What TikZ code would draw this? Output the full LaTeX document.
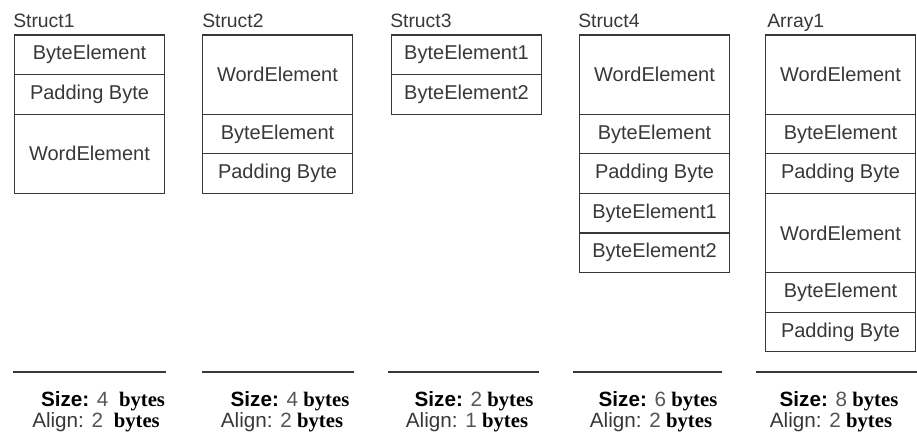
\documentclass[tikz,border=0pt]{standalone}
\usepackage{fontspec}
\setmainfont{Liberation Sans}
\newfontfamily\bytesfont{Liberation Serif}
\usetikzlibrary{positioning}

\definecolor{inkgray}{HTML}{383838}
\definecolor{numgray}{HTML}{555555}

\tikzset{
  cell/.style={draw=inkgray, line width=0.9pt, minimum width=113pt, minimum height=29.7pt,
    inner sep=0pt, outer sep=0pt, text=inkgray, font=\fontsize{15}{17}\selectfont},
  wordcell/.style={cell, minimum height=59.4pt},
  title/.style={anchor=base west, inner sep=0pt, text=inkgray, font=\fontsize{14.5}{16}\selectfont},
  rule/.style={draw=inkgray, line width=1.8pt},
  sizetext/.style={anchor=base, inner sep=0pt, text=black, font=\fontsize{15.5}{17}\selectfont}
}
\newcommand{\bytesword}{{\bytesfont\bfseries bytes}}

\begin{document}
\begin{tikzpicture}[x=0.75pt, y=-0.75pt]
	\useasboundingbox (0,0) rectangle (917,435);
	% titles
	\node[title] (t1) at (13,28) {Struct1};
	\node[title] (t2) at (202,28) {Struct2};
	\node[title] (t3) at (390,28) {Struct3};
	\node[title] (t4) at (578,28) {Struct4};
	\node[title] (t5) at (767,28) {Array1};
	% Struct1
	\node[cell, anchor=north] (s1a) at (89.5,35) {ByteElement};
	\node[cell, below=0pt of s1a] (s1b) {Padding Byte};
	\node[wordcell, below=0pt of s1b] (s1c) {WordElement};
	% Struct2
	\node[wordcell, anchor=north] (s2a) at (277.5,35) {WordElement};
	\node[cell, below=0pt of s2a] (s2b) {ByteElement};
	\node[cell, below=0pt of s2b] (s2c) {Padding Byte};
	% Struct3
	\node[cell, anchor=north] (s3a) at (466.5,35) {ByteElement1};
	\node[cell, below=0pt of s3a] (s3b) {ByteElement2};
	% Struct4
	\node[wordcell, anchor=north] (s4a) at (654.5,35) {WordElement};
	\node[cell, below=0pt of s4a] (s4b) {ByteElement};
	\node[cell, below=0pt of s4b] (s4c) {Padding Byte};
	\node[cell, below=0pt of s4c] (s4d) {ByteElement1};
	\node[cell, below=0pt of s4d] (s4e) {ByteElement2};
	% Array1
	\node[wordcell, anchor=north] (a1a) at (840.5,35) {WordElement};
	\node[cell, below=0pt of a1a] (a1b) {ByteElement};
	\node[cell, below=0pt of a1b] (a1c) {Padding Byte};
	\node[wordcell, below=0pt of a1c] (a1d) {WordElement};
	\node[cell, below=0pt of a1d] (a1e) {ByteElement};
	\node[cell, below=0pt of a1e] (a1f) {Padding Byte};
	% rules
	\foreach \a/\b in {13/166, 202/354, 388/539, 573/722, 756/917} \draw[rule] (\a,372) -- (\b,372);
	% sizes
	\foreach \i/\xs/\xa/\s/\al/\gap in {1/103/96/4/2/8pt, 2/290/282/4/2/4pt, 3/474/467/2/1/4pt, 4/658/651/6/2/4pt, 5/839/831/8/2/4pt} {
		\node[sizetext] (size\i) at (\xs,406) {\textbf{Size:} {\color{numgray}\s}\hspace{\gap}\bytesword};
		\node[sizetext] (align\i) at (\xa,427) {{\color{inkgray}Align:} {\color{numgray}\al}\hspace{\gap}\bytesword};
	}
\end{tikzpicture}
\end{document}
